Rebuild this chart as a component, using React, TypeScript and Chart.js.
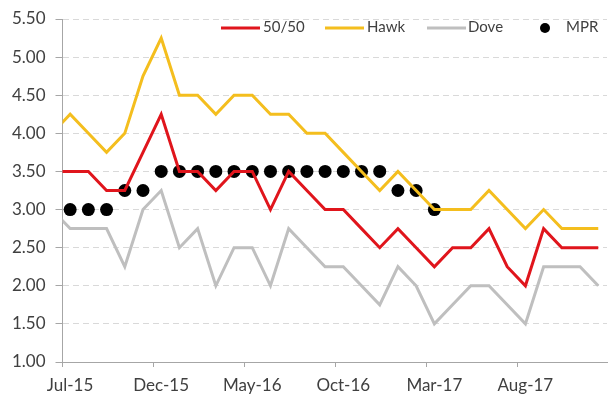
import React, { useEffect, useRef } from "react";
import { Chart, registerables } from "chart.js";

Chart.register(...registerables);

// Months from Jun-15 (partly hidden behind the y axis) to Dec-17
const months = [
  "Jun-15", "Jul-15", "Aug-15", "Sep-15", "Oct-15", "Nov-15", "Dec-15",
  "Jan-16", "Feb-16", "Mar-16", "Apr-16", "May-16", "Jun-16", "Jul-16",
  "Aug-16", "Sep-16", "Oct-16", "Nov-16", "Dec-16", "Jan-17", "Feb-17",
  "Mar-17", "Apr-17", "May-17", "Jun-17", "Jul-17", "Aug-17", "Sep-17",
  "Oct-17", "Nov-17", "Dec-17",
];

const fiftyFifty = [
  3.5, 3.5, 3.5, 3.25, 3.25, 3.75, 4.25, 3.5, 3.5, 3.25, 3.5, 3.5, 3.0, 3.5,
  3.25, 3.0, 3.0, 2.75, 2.5, 2.75, 2.5, 2.25, 2.5, 2.5, 2.75, 2.25, 2.0, 2.75,
  2.5, 2.5, 2.5,
];

const hawk = [
  4.0, 4.25, 4.0, 3.75, 4.0, 4.75, 5.25, 4.5, 4.5, 4.25, 4.5, 4.5, 4.25, 4.25,
  4.0, 4.0, 3.75, 3.5, 3.25, 3.5, 3.25, 3.0, 3.0, 3.0, 3.25, 3.0, 2.75, 3.0,
  2.75, 2.75, 2.75,
];

const dove = [
  3.0, 2.75, 2.75, 2.75, 2.25, 3.0, 3.25, 2.5, 2.75, 2.0, 2.5, 2.5, 2.0, 2.75,
  2.5, 2.25, 2.25, 2.0, 1.75, 2.25, 2.0, 1.5, 1.75, 2.0, 2.0, 1.75, 1.5, 2.25,
  2.25, 2.25, 2.0,
];

const mpr: (number | null)[] = [
  null, 3.0, 3.0, 3.0, 3.25, 3.25, 3.5, 3.5, 3.5, 3.5, 3.5, 3.5, 3.5, 3.5,
  3.5, 3.5, 3.5, 3.5, 3.5, 3.25, 3.25, 3.0, null, null, null, null, null,
  null, null, null, null,
];

const seriesNames = ["50/50", "Hawk", "Dove", "MPR"];
const yMin = 1;
const yMax = 5.5;
const yStep = 0.5;
const xTickStep = 5;

// layout constants
const FIRST = 1; // index of Jul-15 in months
const CAT_OFFSET = 0.42; // point position inside each month slot
const FONT = "Lato, 'Open Sans', sans-serif";
const TEXT = "#404040";
const AXIS = "#a6a6a6";

function toPoints(values: (number | null)[]) {
  const out: { x: number; y: number }[] = [];
  values.forEach((v, i) => {
    if (v != null) out.push({ x: i - FIRST + CAT_OFFSET, y: v });
  });
  return out;
}

const LEGEND_MARK_X = [221, 325, 427, 545];
const LEGEND_TEXT_X = [263, 367, 468, 566];
const LEGEND_Y = 28;

const legendPlugin = {
  id: "customLegend",
  afterDraw(chart: any) {
    const ctx = chart.ctx as CanvasRenderingContext2D;
    ctx.save();
    ctx.font = `15px ${FONT}`;
    ctx.textBaseline = "middle";
    ctx.textAlign = "left";
    chart.data.datasets.forEach((ds: any, i: number) => {
      const mx = LEGEND_MARK_X[i];
      if (ds.showLine === false) {
        ctx.fillStyle = ds.pointBackgroundColor;
        ctx.beginPath();
        ctx.arc(mx, LEGEND_Y, 5, 0, Math.PI * 2);
        ctx.fill();
      } else {
        ctx.strokeStyle = ds.borderColor;
        ctx.lineWidth = 3;
        ctx.beginPath();
        ctx.moveTo(mx, LEGEND_Y);
        ctx.lineTo(mx + 39, LEGEND_Y);
        ctx.stroke();
      }
      ctx.fillStyle = TEXT;
      ctx.fillText(ds.label, LEGEND_TEXT_X[i], LEGEND_Y - 0.5);
    });
    ctx.restore();
  },
};

export default function App() {
  const canvasRef = useRef<HTMLCanvasElement | null>(null);

  useEffect(() => {
    let chart: Chart | null = null;
    let cancelled = false;
    const make = () => {
      if (cancelled || !canvasRef.current) return;
      chart = new Chart(canvasRef.current, {
        type: "line",
        data: {
          datasets: [
            {
              label: seriesNames[0],
              data: toPoints(fiftyFifty),
              borderColor: "#E0151C",
              backgroundColor: "#E0151C",
              borderWidth: 3,
              pointRadius: 0,
              tension: 0,
            },
            {
              label: seriesNames[1],
              data: toPoints(hawk),
              borderColor: "#F4BE1E",
              backgroundColor: "#F4BE1E",
              borderWidth: 3,
              pointRadius: 0,
              tension: 0,
            },
            {
              label: seriesNames[2],
              data: toPoints(dove),
              borderColor: "#BFBFBF",
              backgroundColor: "#BFBFBF",
              borderWidth: 3,
              pointRadius: 0,
              tension: 0,
            },
            {
              label: seriesNames[3],
              data: toPoints(mpr),
              showLine: false,
              borderColor: "#000000",
              backgroundColor: "#000000",
              pointBackgroundColor: "#000000",
              pointBorderColor: "#000000",
              pointBorderWidth: 0,
              pointRadius: 6.5,
            } as any,
          ],
        },
        options: {
          animation: false,
          responsive: true,
          maintainAspectRatio: false,
          layout: {
            autoPadding: false,
            padding: { top: 19, right: 1, left: 0, bottom: 0 },
          },
          plugins: { legend: { display: false }, tooltip: { enabled: false } },
          scales: {
            x: {
              type: "linear",
              min: 0,
              max: 29.9,
              ticks: {
                stepSize: xTickStep,
                includeBounds: false,
                autoSkip: false,
                maxRotation: 0,
                labelOffset: 7.6,
                padding: 8,
                color: TEXT,
                font: { family: FONT, size: 17 },
                callback: (v: any) => months[Number(v) + FIRST] ?? "",
              },
              grid: {
                drawOnChartArea: false,
                drawTicks: true,
                tickLength: 5,
                tickColor: AXIS,
              },
              border: { color: AXIS, width: 1 },
              afterFit: (s: any) => {
                s.height = 35;
                s.paddingLeft = 0;
                s.paddingRight = 0;
              },
            } as any,
            y: {
              min: yMin,
              max: yMax,
              ticks: {
                stepSize: yStep,
                padding: 10,
                color: TEXT,
                font: { family: FONT, size: 17 },
                callback: (v: any) => Number(v).toFixed(2),
              },
              grid: {
                color: (c: any) =>
                  c.tick && c.tick.value === yMin ? "rgba(0,0,0,0)" : "#d9d9d9",
                tickColor: AXIS,
                tickLength: 7,
                lineWidth: 1,
              },
              border: { color: AXIS, width: 1, dash: [6, 4] },
              afterFit: (s: any) => {
                s.width = 62.5;
                s.paddingTop = 0;
                s.paddingBottom = 0;
              },
            } as any,
          },
        },
        plugins: [legendPlugin],
      });
    };
    const fonts: any = (document as any).fonts;
    if (fonts && fonts.load) {
      Promise.all([fonts.load(`17px Lato`), fonts.load(`15px Lato`)])
        .catch(() => null)
        .then(make);
    } else {
      make();
    }
    return () => {
      cancelled = true;
      if (chart) chart.destroy();
    };
  }, []);

  return (
    <div
      style={{
        position: "absolute",
        left: 0,
        top: 0,
        width: 608,
        height: 397,
        background: "#ffffff",
      }}
    >
      <canvas ref={canvasRef} />
    </div>
  );
}
